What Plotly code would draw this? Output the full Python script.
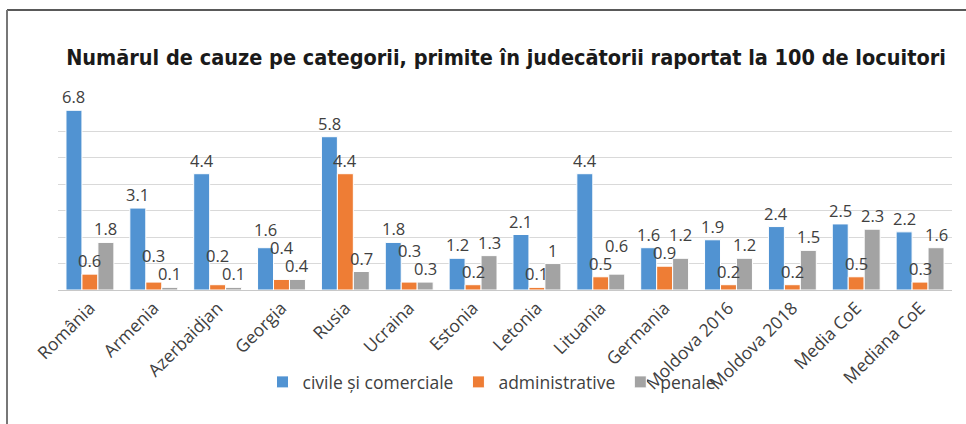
import plotly.graph_objects as go

categories = ["România", "Armenia", "Azerbaidjan", "Georgia", "Rusia", "Ucraina", "Estonia",
              "Letonia", "Lituania", "Germania", "Moldova 2016", "Moldova 2018", "Media CoE", "Mediana CoE"]
civile = [6.8, 3.1, 4.4, 1.6, 5.8, 1.8, 1.2, 2.1, 4.4, 1.6, 1.9, 2.4, 2.5, 2.2]
administrative = [0.6, 0.3, 0.2, 0.4, 4.4, 0.3, 0.2, 0.1, 0.5, 0.9, 0.2, 0.2, 0.5, 0.3]
penale = [1.8, 0.1, 0.1, 0.4, 0.7, 0.3, 1.3, 1, 0.6, 1.2, 1.2, 1.5, 2.3, 1.6]

series = [
    ("civile și comerciale", civile, "#5193D2"),
    ("administrative", administrative, "#EE7D35"),
    ("penale", penale, "#A3A3A3"),
]

FONT = "Open Sans, Noto Sans, sans-serif"
W, H = 966, 424
ml, mr, mt, mb = 58, 14, 105, 134
pw, ph = W - ml - mr, H - mt - mb
YMAX = 7
BARGAP = 0.25
ppu = ph / YMAX                       # pixels per data unit
pitch = pw / len(categories)
bw = pitch * (1 - BARGAP) / len(series)
LABEL_H = 18                          # vertical room of one data label

fig = go.Figure()
for name, vals, color in series:
    fig.add_trace(go.Bar(
        x=categories, y=vals, name=name,
        marker=dict(color=color, line=dict(color="white", width=1)),
        cliponaxis=False,
    ))

# data labels: placed just above each bar, lifted when they would collide with a neighbour's label
annotations = []
for ci, cat in enumerate(categories):
    vals = [s[1][ci] for s in series]
    order = sorted(range(len(series)), key=lambda i: (vals[i], -i))
    placed = {}
    for i in order:
        bottom = vals[i] * ppu
        changed = True
        while changed:
            changed = False
            for j, b in placed.items():
                if abs(i - j) == 1 and abs(bottom - b) < LABEL_H:
                    bottom = b + LABEL_H
                    changed = True
        placed[i] = bottom
    for i in range(len(series)):
        annotations.append(dict(
            x=cat, y=vals[i], xref="x", yref="y", text=f"{vals[i]:g}", showarrow=False,
            xanchor="center", yanchor="bottom", xshift=(i - 1) * bw,
            yshift=placed[i] - vals[i] * ppu,
            font=dict(family=FONT, size=16.5, color="#404040"),
        ))

def py(pixel_y):
    return (H - mb - pixel_y) / ph

def px(pixel_x):
    return (pixel_x - ml) / pw

fig.update_layout(
    width=W, height=H,
    margin=dict(l=ml, r=mr, t=mt, b=mb, pad=0, autoexpand=False),
    paper_bgcolor="white", plot_bgcolor="white",
    barmode="group", bargap=BARGAP, bargroupgap=0,
    title=dict(
        text="<b>Numărul de cauze pe categorii, primite în judecătorii raportat la 100 de locuitori</b>",
        x=506 / W, xanchor="center", y=1 - 57 / H, yanchor="middle",
        font=dict(family="DejaVu Sans Condensed, sans-serif", size=21.5, color="#1a1a1a"),
    ),
    xaxis=dict(
        tickangle=-45, tickfont=dict(family=FONT, size=17.5, color="#404040"),
        showline=True, linecolor="#C8C8C8", linewidth=1, ticks="", showgrid=False,
        automargin=False,
    ),
    yaxis=dict(
        range=[0, YMAX], dtick=1, showticklabels=False, showgrid=True,
        gridcolor="#D9D9D9", gridwidth=1, zeroline=False, showline=False, automargin=False,
    ),
    legend=dict(
        orientation="h", xref="container", x=492 / W, xanchor="center",
        yref="container", y=1 - 382 / H, yanchor="middle",
        font=dict(family=FONT, size=17.5, color="#404040"),
        bgcolor="rgba(0,0,0,0)", itemwidth=30,
    ),
    annotations=annotations,
    shapes=[
        dict(type="line", xref="paper", yref="paper",
             x0=px(7), x1=px(W), y0=py(10), y1=py(10),
             line=dict(color="#222222", width=1.5)),
        dict(type="line", xref="paper", yref="paper",
             x0=px(7), x1=px(7), y0=py(10), y1=py(H + 5),
             line=dict(color="#777777", width=2)),
    ],
)

fig.write_html("out.html", config={"displayModeBar": False},
               post_script="document.body.style.margin='0';document.body.style.overflow='hidden';")
